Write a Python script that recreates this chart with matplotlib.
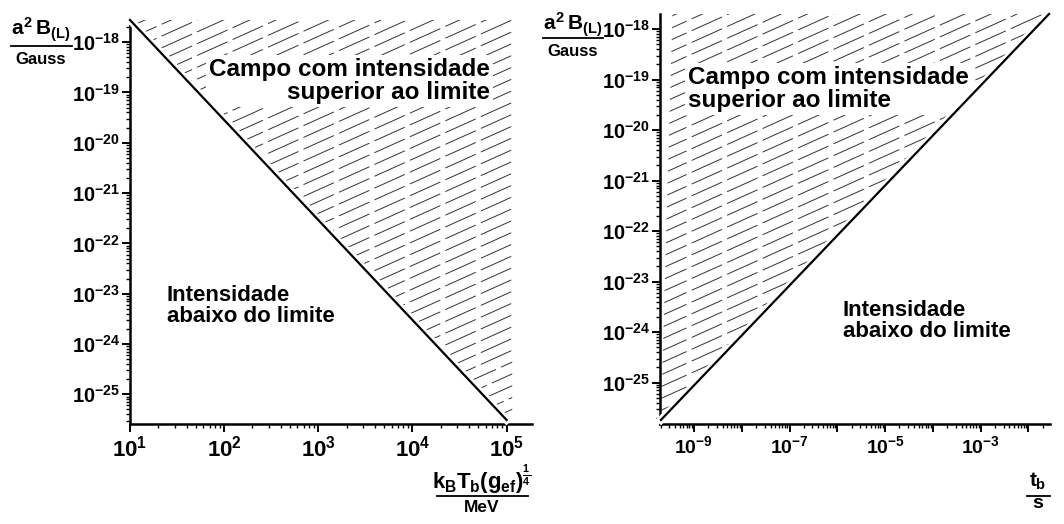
import numpy as np
import matplotlib
matplotlib.use('Agg')
from matplotlib import pyplot as plt
from matplotlib.collections import LineCollection
from matplotlib.patches import Polygon
from matplotlib.lines import Line2D
import matplotlib.transforms as mtransforms
import matplotlib.patheffects as pe
from matplotlib.ticker import FixedLocator, FuncFormatter, LogLocator, NullFormatter

plt.rcParams['font.family'] = ['Liberation Sans', 'DejaVu Sans']
plt.rcParams['font.weight'] = 'bold'
plt.rcParams['mathtext.fontset'] = 'custom'
plt.rcParams['mathtext.rm'] = 'Liberation Sans:bold'
plt.rcParams['mathtext.it'] = 'Liberation Sans:bold'
plt.rcParams['mathtext.bf'] = 'Liberation Sans:bold'
plt.rcParams['lines.scale_dashes'] = False

# dados
temp_esq = [1e1, 1e5]                       # k_B T_b (g_ef)^(1/4) / MeV
campo_esq = [10**-17.56, 10**-25.51]        # a^2 B_(L) / Gauss
tempo_dir = [10**-9.69, 10**-1.57]          # t_b / s
campo_dir = [10**-25.74, 10**-17.70]

xdec_esq = [1, 2, 3, 4, 5]
xdec_dir = [-9, -8, -7, -6, -5, -4, -3, -2]
xrot_dir = [-9, -7, -5, -3]
ydec = [-18, -19, -20, -21, -22, -23, -24, -25]

W, H = 1064, 524
fig = plt.figure(figsize=(W / 100, H / 100), dpi=100)


def fx(px):
    return px / W


def fy(py):
    return 1 - py / H


def eixo(left, top, right, bottom):
    return fig.add_axes([fx(left), fy(bottom), fx(right) - fx(left), fy(top) - fy(bottom)])


def estilo(ax, xdec, xrot, xsize):
    ax.set_xscale('log')
    ax.set_yscale('log')
    for s in ['top', 'right']:
        ax.spines[s].set_visible(False)
    for s in ['left', 'bottom']:
        ax.spines[s].set_linewidth(1.8)
    ax.xaxis.set_major_locator(FixedLocator([10.0**d for d in xdec]))
    ax.xaxis.set_major_formatter(FuncFormatter(
        lambda v, p: r'$10^{%d}$' % round(np.log10(v)) if round(np.log10(v)) in xrot else ''))
    ax.yaxis.set_major_locator(FixedLocator([10.0**d for d in ydec]))
    ax.yaxis.set_major_formatter(FuncFormatter(lambda v, p: r'$10^{%d}$' % round(np.log10(v))))
    ax.xaxis.set_minor_locator(LogLocator(base=10, subs=np.arange(2, 10), numticks=50))
    ax.yaxis.set_minor_locator(LogLocator(base=10, subs=np.arange(2, 10), numticks=50))
    ax.xaxis.set_minor_formatter(NullFormatter())
    ax.yaxis.set_minor_formatter(NullFormatter())
    ax.tick_params(which='major', direction='out', length=6, width=1.4)
    ax.tick_params(which='minor', direction='out', length=3, width=1.0)
    ax.tick_params(axis='x', labelsize=xsize, pad=2)
    ax.tick_params(axis='y', labelsize=14.5, pad=1)


def hachura(ax, verts):
    patch = Polygon(verts, closed=True, transform=ax.transData,
                    facecolor='none', edgecolor='none')
    ax.add_patch(patch)
    bb = ax.get_position()
    w = bb.width * W
    h = bb.height * H
    tr = mtransforms.Affine2D().scale(1.0 / w, 1.0 / h) + ax.transAxes
    incl = 0.45
    segs = []
    for c in np.arange(-incl * w, h + 12, 11.8):
        segs.append([(0, c), (w, c + incl * w)])
    lc = LineCollection(segs, transform=tr, colors='#333333', linewidths=0.7,
                        linestyles=[(3, (24, 4))], zorder=1)
    lc.set_clip_path(patch)
    ax.add_collection(lc, autolim=False)


linha_pe = [pe.Stroke(linewidth=5.5, foreground='white'), pe.Normal()]

# painel esquerdo
ax1 = eixo(130, 20, 532, 424)
estilo(ax1, xdec_esq, xdec_esq, 16)
ax1.set_xlim(10, 10**5.27)
ax1.set_ylim(10**-25.59, 10**-17.56)
hachura(ax1, [(temp_esq[0], campo_esq[0]), (temp_esq[1], campo_esq[1]),
              (10**5.06, campo_esq[1]), (10**5.06, campo_esq[0])])
ax1.text(fx(490), fy(81), 'Campo com intensidade\nsuperior ao limite', transform=fig.transFigure,
         ha='right', va='center', multialignment='right', fontsize=17.5, linespacing=1.05,
         zorder=4, bbox=dict(facecolor='white', edgecolor='none', pad=2))
ax1.text(fx(167), fy(306), 'Intensidade\nabaixo do limite', transform=fig.transFigure,
         ha='left', va='center', fontsize=16, linespacing=1.0, zorder=4)
ax1.plot(temp_esq, campo_esq, color='black', lw=1.6, zorder=6,
         clip_on=False, path_effects=linha_pe)

# painel direito
ax2 = eixo(660, 14, 1050, 424)
estilo(ax2, xdec_dir, xrot_dir, 14)
ax2.set_xlim(10**-9.71, 10**-1.55)
ax2.set_ylim(10**-25.82, 10**-17.70)
hachura(ax2, [(tempo_dir[0], campo_dir[0]), (tempo_dir[1], campo_dir[1]),
              (10**-9.45, campo_dir[1])])
ax2.text(fx(688), fy(89), 'Campo com intensidade\nsuperior ao limite', transform=fig.transFigure,
         ha='left', va='center', multialignment='left', fontsize=17.5, linespacing=1.05,
         zorder=4, bbox=dict(facecolor='white', edgecolor='none', pad=2))
ax2.text(fx(843), fy(321), 'Intensidade\nabaixo do limite', transform=fig.transFigure,
         ha='left', va='center', fontsize=16, linespacing=1.0, zorder=4)
ax2.plot(tempo_dir, campo_dir, color='black', lw=1.6, zorder=6,
         clip_on=False, path_effects=linha_pe)


# rotulos em forma de fracao
def fracao(xc, x0, x1, ynum, ybar, yden, num, den, snum, sden):
    fig.text(fx(xc), fy(ynum), num, ha='center', va='center', fontsize=snum)
    fig.add_artist(Line2D([fx(x0), fx(x1)], [fy(ybar), fy(ybar)],
                          transform=fig.transFigure, color='black', lw=1.3))
    fig.text(fx(xc), fy(yden), den, ha='center', va='center', fontsize=sden, fontweight='bold')


fracao(41, 11, 72, 30, 46, 59, r'$a^2\,B_{(L)}$', 'Gauss', 15, 12)
fracao(573, 543, 603, 25, 38, 51, r'$a^2\,B_{(L)}$', 'Gauss', 15, 12)
fracao(482, 437, 528, 480, 496, 508, r'$k_BT_b(g_{ef})^{\frac{1}{4}}$', 'MeV', 16, 12.5)
fracao(1038, 1027, 1050, 481, 496, 504, r'$t_b$', 's', 15, 14)

fig.savefig('out.png', dpi=100)
